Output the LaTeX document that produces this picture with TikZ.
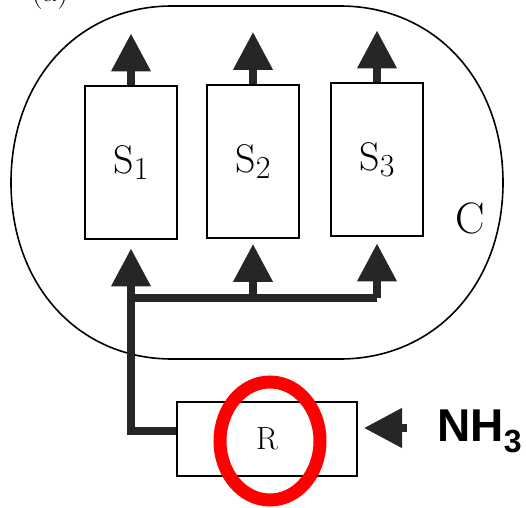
\documentclass[tikz,border=0pt]{standalone}
\usepackage{fontspec}
\newfontfamily\gasfont{Liberation Sans}
\usetikzlibrary{arrows.meta,positioning,calc}
\newcommand\stagesub[1]{\raisebox{-0.35ex}{\fontsize{16}{16}\selectfont #1}}
\tikzset{
  stage/.style={draw,line width=1pt,minimum width=46pt,minimum height=76.5pt,
    inner sep=0pt,font=\fontsize{20}{24}\selectfont},
  wall/.style={draw,line width=0.8pt},
  reactor/.style={draw,line width=1pt,minimum width=90pt,minimum height=37pt,
    font=\fontsize{16}{18}\selectfont},
  flow/.style={-{Triangle[length=19pt,width=19pt]},line width=3.8pt,draw=black!85},
  pipe/.style={line width=3.8pt,draw=black!85},
  highlight/.style={draw=red,line width=6.5pt},
}

\begin{document}
\begin{tikzpicture}[x=0.5pt,y=-0.5pt]
  \useasboundingbox[fill=white] (0,0) rectangle (526,508);

  \node[font=\fontsize{16}{18}\selectfont,anchor=base] (tag) at (50,2) {(a)};

  % the cell C
  \draw[wall] (11,182.5) .. controls (11,80) and (78,6) .. (172,6)
    -- (340,6) .. controls (434.5,6) and (503,80) .. (503,182.5)
    .. controls (503,285) and (434.5,359) .. (340,359)
    -- (172,359) .. controls (78,359) and (11,285) .. cycle;
  \node[font=\fontsize{22}{24}\selectfont] (clabel) at (470,218) {C};

  \node[stage] (S1) at (131,163) {S\stagesub{1}};
  \node[stage] (S2) at (253,161.5) {S\stagesub{2}};
  \node[stage] (S3) at (377,160) {S\stagesub{3}};

  \node[reactor] (R) at (267,439) {R};

  % outputs leaving each stage
  \draw[flow] (S1.north) -- ++(0,-52);
  \draw[flow] (S2.north) -- ++(0,-52);
  \draw[flow] (S3.north) -- ++(0,-52);

  % feed from the reactor, split to the three stages
  \coordinate (split) at (131,298);
  \draw[flow,shorten >=4pt] ([yshift=4pt]R.west) -| (S1.south);
  \draw[pipe] (split) -- (split -| S3.south);
  \draw[flow,shorten >=2.5pt] (split -| S2.south) -- (S2.south);
  \draw[flow,shorten >=3pt] (split -| S3.south) -- (S3.south);

  % NH3 into the reactor
  \node[font=\gasfont\bfseries\fontsize{23}{26}\selectfont,anchor=base west,inner sep=0pt]
    (nh3) at (437,442) {NH\raisebox{-5.5pt}{\fontsize{16}{16}\selectfont 3}};
  \coordinate (feed) at (407,428);
  \draw[flow,shorten >=3pt] (feed) -- (feed -| R.east);

  \draw[highlight] (270,441) ellipse [x radius=50,y radius=59];
\end{tikzpicture}
\end{document}
